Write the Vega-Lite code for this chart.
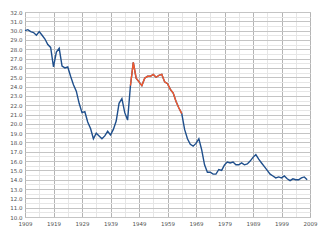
{
  "$schema": "https://vega.github.io/schema/vega-lite/v6.json",
  "width": 285,
  "height": 205,
  "autosize": {"type": "none"},
  "padding": {"left": 25, "top": 12, "right": 20, "bottom": 32},
  "background": "white",
  "config": {
    "view": {"stroke": "#aaaaaa", "strokeWidth": 1},
    "axis": {"labelFont": "DejaVu Sans", "labelFontSize": 5.5, "labelColor": "#505050", "ticks": false, "domain": false, "title": null, "gridOpacity": 1, "gridWidth": 1}
  },
  "data": {"values": [
    {"year":1909,"rate":30.0},{"year":1910,"rate":30.1},{"year":1911,"rate":29.9},{"year":1912,"rate":29.8},{"year":1913,"rate":29.5},{"year":1914,"rate":29.9},{"year":1915,"rate":29.5},{"year":1916,"rate":29.1},{"year":1917,"rate":28.5},{"year":1918,"rate":28.2},
    {"year":1919,"rate":26.1},{"year":1920,"rate":27.7},{"year":1921,"rate":28.1},{"year":1922,"rate":26.2},{"year":1923,"rate":26.0},{"year":1924,"rate":26.1},{"year":1925,"rate":25.1},{"year":1926,"rate":24.2},{"year":1927,"rate":23.5},{"year":1928,"rate":22.2},
    {"year":1929,"rate":21.2},{"year":1930,"rate":21.3},{"year":1931,"rate":20.2},{"year":1932,"rate":19.5},{"year":1933,"rate":18.4},{"year":1934,"rate":19.0},{"year":1935,"rate":18.7},{"year":1936,"rate":18.4},{"year":1937,"rate":18.7},{"year":1938,"rate":19.2},
    {"year":1939,"rate":18.8},{"year":1940,"rate":19.4},{"year":1941,"rate":20.3},{"year":1942,"rate":22.2},{"year":1943,"rate":22.7},{"year":1944,"rate":21.2},{"year":1945,"rate":20.4},{"year":1946,"rate":24.1},{"year":1947,"rate":26.6},{"year":1948,"rate":24.9},
    {"year":1949,"rate":24.5},{"year":1950,"rate":24.1},{"year":1951,"rate":24.9},{"year":1952,"rate":25.1},{"year":1953,"rate":25.1},{"year":1954,"rate":25.3},{"year":1955,"rate":25.0},{"year":1956,"rate":25.2},{"year":1957,"rate":25.3},{"year":1958,"rate":24.5},
    {"year":1959,"rate":24.3},{"year":1960,"rate":23.7},{"year":1961,"rate":23.3},{"year":1962,"rate":22.4},{"year":1963,"rate":21.7},{"year":1964,"rate":21.1},{"year":1965,"rate":19.4},{"year":1966,"rate":18.4},{"year":1967,"rate":17.8},{"year":1968,"rate":17.6},
    {"year":1969,"rate":17.9},{"year":1970,"rate":18.4},{"year":1971,"rate":17.2},{"year":1972,"rate":15.6},{"year":1973,"rate":14.8},{"year":1974,"rate":14.8},{"year":1975,"rate":14.6},{"year":1976,"rate":14.6},{"year":1977,"rate":15.1},{"year":1978,"rate":15.0},
    {"year":1979,"rate":15.6},{"year":1980,"rate":15.9},{"year":1981,"rate":15.8},{"year":1982,"rate":15.9},{"year":1983,"rate":15.6},{"year":1984,"rate":15.6},{"year":1985,"rate":15.8},{"year":1986,"rate":15.6},{"year":1987,"rate":15.7},{"year":1988,"rate":16.0},
    {"year":1989,"rate":16.4},{"year":1990,"rate":16.7},{"year":1991,"rate":16.2},{"year":1992,"rate":15.8},{"year":1993,"rate":15.4},{"year":1994,"rate":15.0},{"year":1995,"rate":14.6},{"year":1996,"rate":14.4},{"year":1997,"rate":14.2},{"year":1998,"rate":14.3},
    {"year":1999,"rate":14.2},{"year":2000,"rate":14.4},{"year":2001,"rate":14.1},{"year":2002,"rate":13.9},{"year":2003,"rate":14.1},{"year":2004,"rate":14.0},{"year":2005,"rate":14.0},{"year":2006,"rate":14.2},{"year":2007,"rate":14.3},{"year":2008,"rate":14.0}
  ]},
  "encoding": {
    "x": {"field": "year", "type": "quantitative",
      "scale": {"domain": [1909, 2009], "nice": false, "zero": false},
      "axis": {
        "values": [1909,1914,1919,1924,1929,1934,1939,1944,1949,1954,1959,1964,1969,1974,1979,1984,1989,1994,1999,2004,2009],
        "labelExpr": "(datum.value - 1909) % 10 == 0 ? format(datum.value, 'd') : ''",
        "gridColor": {"condition": {"test": "(datum.value - 1909) % 10 == 0", "value": "#b4b4b4"}, "value": "#e6e6e6"},
        "labelPadding": 4, "labelFlush": false
      }},
    "y": {"field": "rate", "type": "quantitative",
      "scale": {"domain": [10, 32], "nice": false, "zero": false},
      "axis": {
        "values": [10,10.5,11,11.5,12,12.5,13,13.5,14,14.5,15,15.5,16,16.5,17,17.5,18,18.5,19,19.5,20,20.5,21,21.5,22,22.5,23,23.5,24,24.5,25,25.5,26,26.5,27,27.5,28,28.5,29,29.5,30,30.5,31,31.5,32],
        "labelExpr": "datum.value % 1 == 0 ? format(datum.value, '.1f') : ''",
        "gridColor": {"condition": {"test": "datum.value % 1 == 0", "value": "#c4c4c4"}, "value": "#e6e6e6"},
        "labelPadding": 3
      }}
  },
  "layer": [
    {"mark": {"type": "line", "color": "#1f4f8c", "strokeWidth": 1.4}},
    {"transform": [{"filter": {"field": "year", "range": [1946, 1964]}}],
     "mark": {"type": "line", "color": "#f4582b", "strokeWidth": 1.4}}
  ]
}
